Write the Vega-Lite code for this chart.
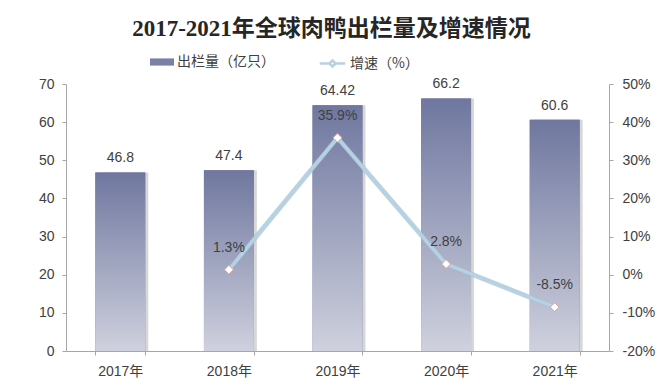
{
  "$schema": "https://vega.github.io/schema/vega-lite/v6.json",
  "width": 543,
  "height": 267,
  "autosize": "none",
  "padding": {"left": 66, "top": 84, "right": 51, "bottom": 30},
  "background": "white",
  "config": {
    "view": {"stroke": null},
    "font": "Liberation Sans, Noto Sans CJK SC",
    "legend": {"padding": 0},
    "locale": {"number": {"decimal": ".", "thousands": ",", "grouping": [3], "currency": ["$", ""], "minus": "-"}}
  },
  "title": {
    "text": "2017-2021年全球肉鸭出栏量及增速情况",
    "font": "Liberation Serif, Noto Sans CJK SC",
    "fontSize": 23,
    "fontWeight": "bold",
    "color": "#262626",
    "anchor": "middle",
    "offset": 13,
    "dx": -6
  },
  "data": {
    "values": [
      {"year": "2017年", "value": 46.8, "growth": null},
      {"year": "2018年", "value": 47.4, "growth": 0.013},
      {"year": "2019年", "value": 64.42, "growth": 0.359},
      {"year": "2020年", "value": 66.2, "growth": 0.028},
      {"year": "2021年", "value": 60.6, "growth": -0.085}
    ]
  },
  "encoding": {
    "x": {
      "field": "year",
      "type": "nominal",
      "sort": null,
      "scale": {"paddingInner": 0.54, "paddingOuter": 0.27},
      "axis": {
        "title": null,
        "labelAngle": 0,
        "labelFontSize": 14,
        "labelColor": "#404040",
        "domainColor": "#a6a6a6",
        "tickColor": "#a6a6a6",
        "tickBand": "extent",
        "tickSize": 4,
        "labelPadding": 9
      }
    }
  },
  "layer": [
    {
      "encoding": {
        "y": {
          "field": "value",
          "type": "quantitative",
          "scale": {"domain": [0, 70], "nice": false},
          "axis": {
            "title": null,
            "values": [0, 10, 20, 30, 40, 50, 60, 70],
            "grid": false,
            "labelFontSize": 14,
            "labelColor": "#404040",
            "domainColor": "#a6a6a6",
            "tickColor": "#a6a6a6",
            "tickSize": 4,
            "labelPadding": 8
          }
        }
      },
      "layer": [
        {
          "mark": {"type": "bar", "xOffset": 3, "color": "#8c8c8c", "opacity": 0.35}
        },
        {
          "mark": {"type": "bar"},
          "encoding": {
            "color": {
              "datum": "出栏量（亿只）",
              "type": "nominal",
              "scale": {"range": ["#7a81a8"]},
              "legend": {
                "title": null,
                "orient": "none",
                "legendX": 88,
                "legendY": -30,
                "symbolType": "M-1.5,-0.45H1.5V0.45H-1.5Z",
                "symbolSize": 256,
                "symbolStrokeWidth": 0,
                "labelOffset": 7,
                "labelFont": "Noto Sans CJK SC",
                "labelFontSize": 14,
                "labelColor": "#404040"
              }
            }
          }
        },
        {
          "mark": {
            "type": "bar",
            "color": {
              "gradient": "linear",
              "x1": 0, "y1": 0, "x2": 0, "y2": 1,
              "stops": [
                {"offset": 0, "color": "#6f779f"},
                {"offset": 1, "color": "#cfd1de"}
              ]
            }
          }
        },
        {
          "mark": {"type": "text", "dy": -14, "fontSize": 14, "color": "#404040", "baseline": "middle"},
          "encoding": {"text": {"field": "value", "type": "quantitative"}}
        }
      ]
    },
    {
      "transform": [{"filter": "datum.growth != null"}],
      "encoding": {
        "y": {
          "field": "growth",
          "type": "quantitative",
          "scale": {"domain": [-0.2, 0.5], "nice": false},
          "axis": {
            "title": null,
            "orient": "right",
            "values": [-0.2, -0.1, 0, 0.1, 0.2, 0.3, 0.4, 0.5],
            "format": ".0%",
            "grid": false,
            "labelFontSize": 14,
            "labelColor": "#404040",
            "domainColor": "#a6a6a6",
            "tickColor": "#a6a6a6",
            "tickSize": 4,
            "labelPadding": 9
          }
        }
      },
      "layer": [
        {
          "mark": {"type": "line", "strokeWidth": 5, "color": "#9dbdd0", "opacity": 0.6}
        },
        {
          "mark": {"type": "line", "strokeWidth": 3.5},
          "encoding": {
            "stroke": {
              "datum": "增速（%）",
              "type": "nominal",
              "scale": {"range": ["#b6d2e2"]},
              "legend": {
                "title": null,
                "orient": "none",
                "legendX": 257,
                "legendY": -30,
                "symbolType": "M-1.6,0H-0.38M0.38,0H1.6M0,-0.38L0.38,0L0,0.38L-0.38,0Z",
                "symbolSize": 256,
                "symbolStrokeWidth": 2.5,
                "symbolFillColor": "white",
                "labelOffset": 8,
                "labelFont": "Noto Sans CJK SC",
                "labelFontSize": 14,
                "labelColor": "#404040"
              }
            }
          }
        },
        {
          "mark": {"type": "point", "shape": "diamond", "filled": true, "fill": "white", "stroke": "#d6a0a0", "strokeWidth": 1, "size": 80, "opacity": 1}
        },
        {
          "mark": {"type": "text", "dy": -22, "fontSize": 14, "color": "#404040", "baseline": "middle"},
          "encoding": {"text": {"field": "growth", "type": "quantitative", "format": ".1%"}}
        }
      ]
    }
  ],
  "resolve": {"scale": {"y": "independent"}}
}
